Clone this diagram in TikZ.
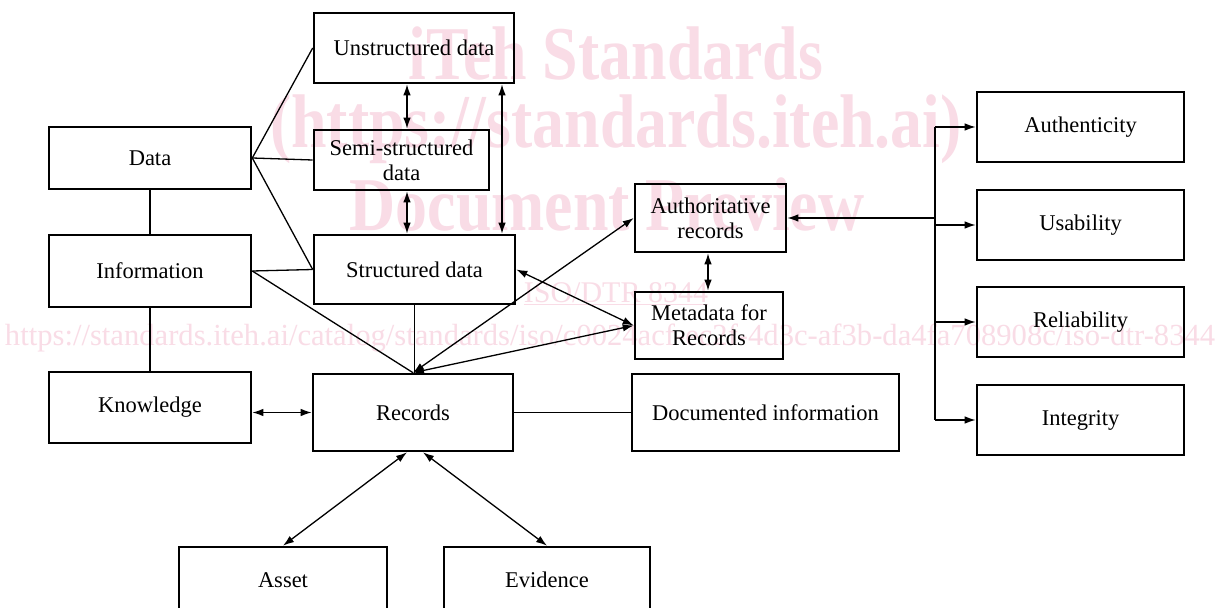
\documentclass[tikz,border=0pt]{standalone}
\usepackage{fontspec}
\usepackage{graphicx}
\setmainfont{Liberation Serif}
\usetikzlibrary{arrows.meta,calc}
\definecolor{wmpink}{RGB}{249,220,230}
\begin{document}
\begin{tikzpicture}[x=1bp,y=-1bp,
  box/.style={draw, line width=2.6bp, inner sep=0pt, align=center, font=\fontsize{22.5bp}{25bp}\selectfont},
  conn/.style={line width=1.3bp},
  dbl/.style={conn, {Latex[length=11bp,width=7.5bp]}-{Latex[length=11bp,width=7.5bp]}},
  sgl/.style={conn, -{Latex[length=11bp,width=7.5bp]}},
  wm/.style={text=wmpink, inner sep=0pt, anchor=base},
  wmbig/.style={wm, font=\fontsize{76bp}{80bp}\selectfont\bfseries},
]
\useasboundingbox (0,0) rectangle (1220,608);
\fill[white] (0,0) rectangle (1220,608);
% watermark
\node[wmbig] (wmA) at (616,80) {\scalebox{0.84}[1]{iTeh Standards}};
\node[wmbig] (wmB) at (616,148) {\scalebox{0.84}[1]{(https://standards.iteh.ai)}};
\node[wmbig] (wmC) at (607,231) {\scalebox{0.84}[1]{Document Preview}};
\node[wm, font=\fontsize{30bp}{32bp}\selectfont] (wmD) at (616,303) {\underline{ISO/DTR 8344}};
\node[wm, font=\fontsize{31bp}{33bp}\selectfont] (wmE) at (610,346) {\resizebox{1210bp}{!}{https://standards.iteh.ai/catalog/standards/iso/c0024acf-ec2f-4d3c-af3b-da4fa708908c/iso-dtr-8344}};
% boxes
\node[box, minimum width=200bp, minimum height=70bp] (unstr) at (414,48) {Unstructured data};
\node[box, minimum width=175bp, minimum height=60bp] (semi) at (401.5,160) {Semi-structured\\data};
\node[box, minimum width=201bp, minimum height=69bp] (struct) at (414.5,269.5) {Structured data};
\node[box, minimum width=202bp, minimum height=62bp] (data) at (150,158) {Data};
\node[box, minimum width=202bp, minimum height=72bp] (info) at (150,271) {Information};
\node[box, minimum width=202bp, minimum height=71bp] (know) at (150,407.5) {Knowledge};
\node[box, minimum width=200bp, minimum height=77bp] (rec) at (413,412.5) {Records};
\node[box, minimum width=208bp, minimum height=66bp] (asset) at (283,580) {Asset};
\node[box, minimum width=206bp, minimum height=66bp] (evid) at (547,580) {Evidence};
\node[box, minimum width=267bp, minimum height=77bp] (doc) at (765.5,412.5) {Documented information};
\node[box, minimum width=151bp, minimum height=68bp] (auth) at (710.5,218) {Authoritative\\records};
\node[box, minimum width=148bp, minimum height=67bp] (meta) at (709,325.5) {Metadata for\\Records};
\node[box, minimum width=207bp, minimum height=70bp] (authen) at (1080.5,127) {Authenticity};
\node[box, minimum width=207bp, minimum height=70bp] (usab) at (1080.5,225) {Usability};
\node[box, minimum width=207bp, minimum height=70bp] (reli) at (1080.5,322) {Reliability};
\node[box, minimum width=207bp, minimum height=70bp] (integ) at (1080.5,420) {Integrity};
% helper coordinates
\coordinate (xa) at (407,0);
\coordinate (xb) at (502,0);
\coordinate (xc) at (708,0);
\coordinate (tr) at (935,0);
% connectors
\draw[dbl] (unstr.south -| xa) -- (semi.north -| xa);
\draw[dbl] (semi.south -| xa) -- (struct.north -| xa);
\draw[dbl] (unstr.south -| xb) -- (struct.north -| xb);
\draw[dbl] (auth.south -| xc) -- (meta.north -| xc);
\draw[conn] (data.east) -- (unstr.west);
\draw[conn] (data.east) -- (semi.west);
\draw[conn] (data.east) -- (struct.west);
\draw[conn] (data.south) -- (info.north);
\draw[conn] (info.south) -- (know.north);
\draw[conn] (info.east) -- (struct.west);
\draw[conn] (info.east) -- (rec.north);
\draw[conn] (struct.south) -- (struct.south |- rec.north);
\draw[dbl] (rec.north) -- (auth.west);
\draw[dbl] (rec.north) -- (meta.west);
\draw[dbl] (struct.east) -- (meta.west);
\draw[dbl] (know.east |- rec.west) -- (rec.west);
\draw[conn] (rec.east) -- (doc.west);
\draw[dbl] ($(rec.south)+(-6,0)$) -- (asset.north);
\draw[dbl] ($(rec.south)+(10,0)$) -- (evid.north);
\draw[conn] (tr |- authen.west) -- (tr |- integ.west);
\foreach \n in {authen,usab,reli,integ} \draw[sgl] (tr |- \n.west) -- (\n.west);
\draw[sgl] (tr |- auth.east) -- (auth.east);
\end{tikzpicture}
\end{document}
